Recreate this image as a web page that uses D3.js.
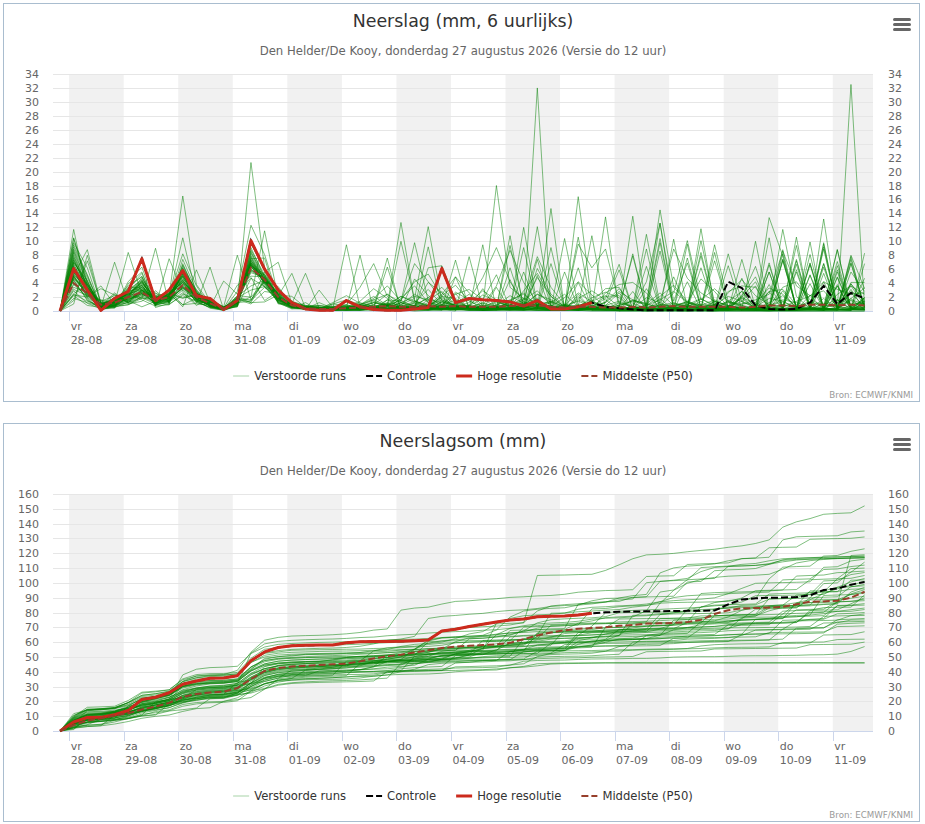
<!DOCTYPE html>
<html><head><meta charset="utf-8">
<script src="https://cdn.jsdelivr.net/npm/d3@7"></script>
<style>
body{margin:0;background:#fff;}
svg{display:block;font-family:"DejaVu Sans",sans-serif;}
</style>
</head><body>
<svg id="chart" width="925" height="824"></svg>
<script>
// ---------------- DATA ----------------
const startTime = new Date(2026, 7, 27, 20, 0); // first forecast step (local time)
const stepHours = 6;
const dayNames = ["zo","ma","di","wo","do","vr","za"];
const titles = ["Neerslag (mm, 6 uurlijks)", "Neerslagsom (mm)"];
const subtitle = "Den Helder/De Kooy, donderdag 27 augustus 2026 (Versie do 12 uur)";
const credit = "Bron: ECMWF/KNMI";
const legendLabels = ["Verstoorde runs", "Controle", "Hoge resolutie", "Middelste (P50)"];
const yTicks6h = [0,2,4,6,8,10,12,14,16,18,20,22,24,26,28,30,32,34];
const yTicksSom = [0,10,20,30,40,50,60,70,80,90,100,110,120,130,140,150,160];

const hogeResolutie = [0,6.1,3.0,0.1,1.8,2.8,7.5,1.5,3.0,5.8,2.2,1.8,0.2,1.5,10.1,6.0,3.0,1.2,0.3,0.1,0.1,1.5,0.6,0.2,0.1,0.1,0.3,0.5,6.1,1.2,1.8,1.6,1.5,1.3,0.7,1.5,0.3,0.3,0.6,1.2];

const controle = [0,6.1,3.0,0.1,1.8,2.8,7.5,1.5,3.0,5.8,2.2,1.8,0.2,1.5,10.1,6.0,3.0,1.2,0.3,0.1,0.1,1.5,0.6,0.2,0.1,0.1,0.3,0.5,6.1,1.2,1.8,1.6,1.5,1.3,0.7,1.5,0.3,0.3,0.6,1.2,
  0.6,0.4,0.2,0.1,0.1,0.1,0.1,0.1,0.1,4.2,3.3,0.8,0.3,0.2,0.3,1.2,3.6,1.0,2.6,1.8];

const middelste6h = [0,4.0,2.5,0.9,1.2,2.0,2.7,1.5,2.0,3.7,2.0,1.1,0.3,1.5,6.2,4.5,2.0,0.8,0.4,0.3,0.3,
  0.4,0.5,0.6,0.7,0.6,0.6,0.7,0.6,0.7,0.6,0.6,0.6,0.7,0.8,0.8,0.6,0.5,0.6,0.6,0.5,
  0.5,0.6,0.5,0.6,0.7,0.6,0.6,0.6,0.6,0.5,0.6,0.8,0.8,0.7,0.9,0.9,0.8,0.9,0.8];

const middelsteSom = [0,4,7,8.5,10.5,12,14.5,16.5,19,23,25,26,26.5,29,35,40.5,42.5,43.5,44,44.5,45,
  45.5,47,49,50.5,51.5,53,54.5,56,57,57.5,58,58.5,59.5,62,64.5,66.5,68,69,69.5,70,
  71,71.5,72.5,72.7,73,73.5,75,79,81.5,82.8,83,83.3,83.8,85.5,87.3,87.5,88,90,94];

const verstoordeRuns = [
 [0,4.5,1.5,0.4,0.8,1.2,3.0,0.9,1.4,3.0,1.6,0.8,0.2,1.1,6.5,5.0,1.8,0.6,0.3,0.2,0.1, 0.3,0.6,1.2,0.8,0.4,0.2,0.1,0.5,1.0,0.6, 0.4,0.2,1.5,0.9,1.8,0.3,0.2,0.1,0,0, 0,0,0,0,0,0,0,0,0,0, 0,0,0,0,0,0,0,0,0],
 [0,5.0,2.2,0.6,1.0,1.8,2.5,1.2,1.5,3.5,2.0,1.0,0.3,1.4,6.0,4.5,2.0,0.5,0.4,0.3,0.2, 0.2,0.1,0.4,1.1,0.3,0.2,0.4,0.2,0.1,0.3, 0.2,0.5,0.8,0.4,0.9,1.2,0.3,0.1,0.2,0.2, 0,0,0,0,0,0,0,0,0,0, 0,0,0,0,0,0,0,0,0],
 [0,2.5,3.8,1.2,0.6,0.9,1.8,9.0,1.0,2.2,1.4,0.5,0.1,2.0,1.5,3.4,2.2,1.0,0.3,0.2,0.4, 0.5,0.3,0.2,0.9,2.1,1.2,0.4,0.3,0.6,0.2, 0.1,0.3,1.4,2.6,0.5,0.2,0.1,0.4,0.3,0.1, 0.1,0.2,0.0,0.3,0.6,0.2,0.1,0.0,0.2,0.3, 0.1,0.0,0.2,0.1,0.3,0.1,0.4,1.8,3.3],
 [0,6.2,1.8,0.2,1.5,2.4,3.1,0.8,2.6,4.1,1.2,0.6,0.3,0.9,6.8,3.9,1.5,0.9,0.5,0.4,0.2, 0.1,0.2,0.1,0.3,0.2,0.0,0.1,0.1,4.9,0.5, 1.1,0.4,0.2,0.1,0.6,0.3,0.2,0.1,0.4,0.2, 0.1,0.2,3.2,0.2,0.1,0.1,0.1,1.4,0.1,0.1, 0.1,0.1,0.1,0.1,2.3,0.1,0.1,0.1,1.4],
 [0,7.8,3.5,0.3,0.9,1.5,2.8,1.6,2.2,5.0,2.6,1.1,0.2,1.3,5.5,4.8,1.7,0.6,0.2,0.3,0.1, 0.4,1.2,0.6,0.2,0.1,0.3,0.2,0.5,0.4,0.1, 0.1,0.1,0.2,0.3,5.1,0.2,0.1,0.1,0.1,0.3, 0.2,0.1,0.3,0.2,0.1,0.0,0.2,0.4,0.3,0.1, 0.1,0.2,2.9,0.2,0.1,0.1,1.6,0.2,0.1],
 [0,1.8,1.2,0.6,7.0,1.0,1.4,2.9,1.3,2.6,0.8,1.9,0.4,1.7,1.0,2.8,2.5,1.2,0.4,0.3,0.2, 0.2,0.2,0.4,6.3,0.3,0.1,0.1,0.2,2.5,0.2, 0.3,0.2,0.5,0.9,4.8,2.1,0.6,0.2,0.3,0.4, 0.2,0.5,0.3,0.1,0.2,0.6,1.7,0.9,0.3,0.2, 0.1,0.1,0.1,0.1,0.2,5.4,0.2,0.1,1.9],
 [0,4.8,2.9,1.0,1.4,2.0,4.2,1.1,1.8,3.3,2.2,1.5,0.5,0.6,4.7,3.5,1.4,0.4,0.2,3.0,0.5, 0.1,0.2,0.4,0.3,0.9,2.4,1.3,0.4,0.2,0.1, 0.1,0.2,6.2,0.3,0.1,0.1,0.1,2.4,0.2,0.2, 0.1,0.1,0.1,0.2,4.9,0.3,0.1,0.1,0.1,0.2, 0.2,2.8,0.2,0.1,0.1,0.1,3.6,0.2,0.3],
 [0,8.5,4.1,0.2,0.7,3.2,5.4,0.9,1.2,6.2,1.5,0.4,0.1,0.8,7.4,3.9,1.2,0.3,0.4,0.2,0.1, 0.2,0.1,0.3,0.6,0.4,0.2,0.8,1.6,0.7,0.3, 0.1,0.1,0.1,0.1,0.3,0.1,5.6,0.4,0.2,0.2, 0.1,0.1,0.1,0.1,0.2,0.1,0.1,0.2,0.3,4.7, 0.3,0.1,0.1,0.1,0.2,0.3,5.9,0.6,0.3],
 [0,1.0,8.0,0.9,0.5,1.3,2.6,2.0,2.8,0.9,1.8,0.7,0.3,1.6,5.8,5.2,1.9,0.8,0.2,0.1,0.3, 0.6,0.4,0.2,0.1,0.5,1.2,3.1,0.9,0.4,0.3, 0.2,0.5,0.3,0.8,1.6,0.4,0.2,0.1,0.3,0.6, 0.4,8.2,0.3,0.1,0.1,0.1,0.3,0.2,0.1,0.1, 0.1,0.2,0.4,7.4,0.3,0.1,3.8,0.2,0.2],
 [0,5.5,3.2,1.4,2.2,1.9,3.5,1.4,2.4,4.6,2.9,1.3,0.6,1.2,6.6,3.4,1.6,0.5,0.3,0.2,0.2, 0.2,0.3,0.9,0.4,0.1,0.2,0.3,0.6,1.1,2.4, 0.4,0.2,0.1,0.1,0.2,6.8,0.4,0.2,0.1,0.1, 0.1,0.2,0.3,0.1,0.4,0.9,0.3,0.2,0.6,1.4, 3.6,0.2,0.1,0.1,0.2,4.2,0.2,1.8,0.1],
 [0,2.9,1.1,0.3,1.8,2.4,1.6,0.7,7.5,2.8,1.0,0.9,0.2,1.9,3.0,3.5,2.6,1.3,0.8,0.4,0.3, 0.4,8.0,0.0,1.6,0.5,0.2,0.3,0.1,0.4,0.6, 0.2,0.3,0.1,0.4,0.9,0.6,0.3,0.2,0.4,1.3, 3.2,1.1,0.4,0.2,0.3,0.8,0.5,0.2,0.1,0.3, 0.2,0.3,7.4,0.3,0.2,0.2,5.6,0.4,0.5],
 [0,9.2,5.1,0.4,0.6,2.8,4.6,0.5,1.1,5.8,3.1,0.8,0.1,0.9,8.2,4.4,1.2,0.5,0.3,0.2,0.1, 0.1,0.3,0.2,0.8,1.5,0.6,0.2,0.4,0.3,0.1, 0.1,0.2,4.5,0.2,0.1,0.1,0.2,2.1,0.1,0.1, 0.2,0.4,1.9,1.2,0.3,0.1,0.2,0.5,0.8,0.4, 0.1,0.2,0.3,5.6,0.2,0.1,0.2,3.1,0.1],
 [0,2.3,2.0,3.6,0.9,1.4,3.0,1.9,2.1,4.4,1.7,1.2,0.4,1.5,6.3,4.7,2.2,0.7,0.6,0.8,0.5, 1.3,0.6,0.3,0.2,0.4,0.8,0.5,2.2,3.7,1.4, 0.6,0.3,0.2,0.5,1.1,0.4,0.2,0.3,0.6,2.1, 2.2,0.1,0.1,0.1,0.2,0.3,6.2,0.3,0.2,0.1, 0.1,0.1,0.1,0.2,0.4,6.8,0.3,0.2,1.1],
 [0,2.2,0.8,0.5,1.2,1.7,2.2,1.3,0.9,2.4,1.9,0.6,4.3,2.4,4.8,1.5,2.8,1.1,0.6,0.4,0.3, 0.2,0.4,0.6,0.6,10.0,1.5,0.8,0.3,0.2,0.5, 1.2,0.6,0.3,0.2,0.4,0.7,1.9,4.2,2.3,0.6, 0.3,0.2,0.5,0.9,0.4,0.2,0.1,0.3,0.6,0.4, 0.2,0.4,8.8,0.3,0.2,0.3,3.6,0.3,0.6],
 [0,7.1,3.9,0.8,1.6,2.5,3.9,2.2,1.7,5.3,2.1,1.0,0.3,1.1,6.9,4.1,1.5,0.6,0.3,0.1,1.0, 0.8,0.3,0.2,0.4,1.2,0.6,0.3,0.2,0.5,0.9, 2.3,1.4,0.5,0.2,6.1,2.4,0.8,0.3,0.2,0.4, 0.3,0.2,0.6,0.4,0.2,0.1,0.3,0.5,1.2,0.8, 0.1,0.1,0.2,0.3,6.9,0.3,0.2,0.1,1.2],
 [0,4.6,2.6,0.6,2.4,1.2,2.3,1.8,2.9,3.4,2.4,1.6,0.2,1.8,5.9,4.4,2.1,0.9,0.3,1.2,0.4, 0.3,0.2,0.4,0.9,0.5,0.3,0.6,0.2,0.4,0.7, 0.1,0.2,0.3,5.6,0.3,0.1,0.2,6.2,0.2,0.2, 0.5,0.3,0.2,0.4,1.1,0.6,0.3,0.2,0.5,0.4, 10.0,0.3,0.9,0.5,1.2,0.9,1.6,1.1,1.1],
 [0,5.1,8.8,1.1,0.5,2.1,3.7,1.0,2.5,5.1,1.8,0.7,0.2,1.4,7.5,7.6,1.1,0.4,1.2,0.1,0.1, 0.2,0.1,0.3,0.2,0.6,1.4,0.8,0.3,0.2,0.4, 0.6,0.2,0.4,1.3,0.8,0.3,0.2,0.6,1.9,2.7, 1.9,0.1,0.1,0.1,0.2,0.4,0.3,0.1,0.2,7.4, 0.5,0.1,0.1,0.2,0.3,0.4,6.5,0.3,0.3],
 [0,3.9,1.9,0.7,1.3,1.6,2.9,1.5,1.9,3.2,2.0,0.9,0.4,3.7,5.0,4.9,2.4,0.8,0.5,0.3,0.2, 0.4,0.9,2.1,0.8,0.3,4.6,2.2,0.6,0.3,0.2, 0.3,0.2,0.6,1.1,0.4,0.3,0.5,0.9,0.6,0.3, 0.1,0.3,6.4,0.3,0.1,0.1,0.1,0.2,6.5,0.2, 0.8,0.4,0.3,0.6,1.4,0.5,8.8,0.3,1.0],
 [0,6.4,2.7,0.5,1.1,3.4,3.3,1.4,1.6,4.8,1.6,1.1,0.6,1.3,6.7,4.3,3.5,0.8,0.4,0.2,0.3, 0.2,0.6,0.4,0.2,0.3,0.8,1.9,3.4,1.2,0.5, 0.3,0.8,2.2,1.1,0.4,0.2,0.3,1.6,0.8,0.5, 0.6,7.9,0.3,0.1,0.1,0.1,0.2,0.1,0.1,2.1, 0.2,0.1,0.3,5.9,0.3,0.2,4.9,0.3,0.5],
 [0,3.1,2.2,1.5,0.7,0.9,2.1,2.6,1.2,3.6,1.3,0.5,0.3,1.2,1.4,5.6,7.0,1.1,0.6,0.5,0.3, 9.5,0.5,1.2,0.7,0.6,1.1,0.4,0.8,0.6,0.8, 1.7,0.6,0.3,0.5,1.2,0.6,0.9,0.4,0.3,0.6, 0.4,0.3,0.8,2.1,3.7,1.4,0.6,0.3,0.5,0.2, 0.2,0.3,7.2,0.4,0.3,0.4,7.1,0.4,1.4],
 [0,5.2,3.4,0.9,1.9,1.7,2.4,2.3,1.4,4.2,2.2,1.4,0.5,1.7,6.4,4.1,2.1,0.7,0.5,0.4,0.6, 0.9,0.4,0.2,0.3,0.6,0.2,0.4,1.3,0.8,0.4, 0.2,0.4,0.3,12.0,0.7,0.7,0.3,0.2,0.5,0.4, 0.3,0.6,0.4,0.2,0.2,0.4,0.3,0.2,1.4,2.8, 0.3,0.2,0.3,0.4,8.1,0.3,0.2,4.1,4.1],
 [0,9.8,6.2,0.3,0.4,3.9,5.6,0.7,0.9,6.8,2.4,0.6,0.2,0.7,9.1,4.8,1.0,1.1,0.2,0.2,0.1, 0.2,0.1,0.4,0.2,0.3,0.6,0.3,0.8,1.6,0.5, 0.3,0.2,0.4,0.8,0.5,1.2,2.4,0.6,0.3,0.2, 0.1,0.1,0.1,8.6,0.3,0.2,0.1,0.4,0.1,0.3, 0.3,5.6,0.2,0.1,5.1,0.2,0.1,0.8,1.4],
 [0,4.4,1.6,0.4,1.1,2.6,3.6,1.7,1.5,3.8,1.4,1.0,0.3,1.9,7.1,5.1,1.8,1.0,0.8,0.6,0.3, 0.6,1.4,3.2,1.8,0.4,0.3,0.2,0.5,0.3,0.6, 0.2,3.4,0.2,0.1,0.1,0.2,0.4,10.6,0.4,0.3, 0.3,0.2,0.4,0.6,0.3,0.9,1.8,0.6,0.3,0.4, 0.2,0.3,7.4,0.4,0.2,1.8,0.2,0.1,8.3],
 [0,2.4,1.4,0.8,2.6,1.1,1.9,1.0,2.3,0.9,1.1,6.3,0.2,2.2,2.0,4.2,2.6,1.4,0.7,0.5,0.4, 0.5,0.8,0.4,1.6,1.4,9.8,1.5,0.6,0.3,0.4, 0.3,0.2,0.5,0.4,0.9,0.6,0.3,0.2,1.4,3.2, 3.4,0.2,0.1,0.2,0.3,0.4,7.9,0.4,0.2,0.2, 0.6,0.4,0.3,10.6,0.2,1.1,0.8,3.6,0.8],
 [0,7.6,3.0,0.6,1.7,2.2,4.4,2.5,2.0,5.6,1.9,1.2,0.4,1.0,7.2,4.0,1.9,0.7,0.4,0.3,0.2, 0.4,0.2,0.6,0.9,0.4,0.3,1.6,2.8,0.9,0.5, 0.1,0.2,0.4,0.3,7.4,0.6,0.2,0.1,0.3,0.3, 0.8,1.5,1.1,0.4,0.3,0.6,0.4,0.4,1.5,0.6, 0.4,0.8,1.3,0.6,0.3,13.2,0.3,0.3,1.9],
 [0,5.0,2.3,1.2,0.8,1.9,2.7,1.2,2.7,4.0,2.4,1.3,0.3,1.6,1.6,4.5,2.2,5.4,0.4,0.3,1.2, 2.2,1.1,0.4,0.3,0.6,0.4,0.3,0.9,2.7,1.6, 0.2,0.4,9.4,0.6,0.2,0.1,0.1,0.2,1.6,0.2, 0.1,0.1,0.2,1.8,0.1,0.2,0.4,8.4,0.3,0.2, 0.1,0.2,0.3,7.2,0.4,0.3,0.2,5.6,2.8],
 [0,6.8,2.9,0.5,1.2,2.4,4.1,1.3,2.2,16.5,3.8,1.1,0.3,0.6,8.6,4.4,1.8,0.6,0.4,0.3,0.2, 0.3,0.2,0.4,0.6,0.3,0.2,0.5,0.4,0.2,0.3, 0.6,1.4,0.8,0.3,0.6,0.4,0.2,0.3,0.5,1.2, 5.9,0.2,0.1,0.1,0.1,0.2,1.4,0.1,0.1,0.3, 0.3,5.6,0.3,0.2,0.4,8.9,0.3,1.5,0.3],
 [0,5.8,2.1,0.7,1.3,2.9,3.2,1.6,1.9,4.5,1.5,0.9,0.5,1.4,6.5,5.3,2.3,0.9,0.5,0.3,0.4, 0.3,0.5,0.9,2.4,1.2,0.4,0.2,0.3,0.6,0.3, 9.5,0.2,0.2,0.4,0.3,0.2,0.2,0.2,0.4,0.3, 0.1,0.2,0.3,0.4,10.3,0.3,0.2,0.1,0.2,1.0, 1.2,3.3,2.4,0.6,0.4,0.9,0.4,8.0,3.2],
 [0,1.5,7.2,1.1,1.6,1.5,0.6,1.4,2.5,1.8,2.5,1.7,0.6,1.5,5.7,4.7,2.5,1.0,0.6,0.4,0.3, 0.4,0.3,0.6,1.1,0.5,0.8,4.1,2.6,0.7,0.4, 0.3,0.6,0.4,1.6,2.9,0.8,0.4,0.3,0.6,1.8, 6.7,0.2,0.1,0.1,0.1,4.2,0.2,0.1,0.1,2.1, 6.4,0.3,0.2,0.4,6.8,0.4,0.3,6.9,0.5],
 [0,6.9,4.4,0.2,0.9,2.3,3.8,0.9,2.3,5.2,1.7,0.8,0.2,1.2,7.0,4.2,2.0,0.8,0.7,0.8,0.5, 0.6,0.3,0.2,0.4,1.8,3.6,1.2,0.4,0.3,0.8, 0.2,0.1,0.3,0.2,0.4,0.3,10.4,0.7,0.4,0.2, 0.3,0.5,0.4,0.2,0.6,0.9,0.4,9.5,1.3,0.4, 0.2,0.3,0.4,6.7,0.3,0.2,4.8,0.3,1.7],
 [0,3.4,2.6,1.3,1.1,8.4,2.4,2.1,1.6,3.3,1.4,1.0,0.3,2.0,1.2,1.3,2.3,2.1,0.5,0.4,0.3, 0.5,0.4,0.3,0.6,1.2,0.8,0.4,0.4,7.3,0.2, 0.6,0.3,0.4,0.9,1.4,0.6,0.3,0.5,0.4,13.5, 0.0,0.6,0.4,0.3,0.8,1.3,0.6,0.4,2.6,4.5, 2.2,0.9,0.6,1.4,2.1,4.2,3.1,2.4,2.6],
 [0,8.9,4.8,0.5,1.4,3.6,4.9,1.1,1.8,6.4,2.6,1.3,0.4,0.9,7.8,3.6,1.3,0.5,0.3,0.2,0.2, 0.3,0.2,0.5,0.3,0.8,0.4,0.6,0.3,0.2,0.4, 0.2,0.4,10.8,0.3,0.1,0.1,0.2,4.1,0.2,0.1, 0.6,0.3,0.2,0.4,0.5,0.3,0.8,1.6,0.6,0.3, 0.2,10.5,0.3,0.2,3.9,0.2,0.1,7.8,0.2],
 [0,5.3,3.1,1.0,1.8,1.6,2.6,2.0,2.3,4.3,2.1,1.0,0.3,1.4,6.3,4.3,2.0,0.9,0.6,0.5,0.4, 0.4,0.6,1.4,0.8,0.3,0.5,0.9,0.4,0.3,0.6, 3.2,0.3,0.2,0.4,12.1,0.6,0.2,0.2,0.3,0.7, 0.2,0.1,0.3,9.8,0.4,0.2,0.1,0.2,0.3,1.9, 1.1,0.6,0.9,0.4,9.9,0.0,2.4,3.6,2.4],
 [0,8.3,3.6,0.4,1.0,2.7,4.0,1.8,2.9,5.5,2.3,0.8,0.2,1.1,7.6,4.5,1.7,0.7,0.4,0.3,0.2, 0.1,0.2,0.1,0.2,0.1,0.4,9.2,0.4,0.2,0.1, 0.1,0.2,0.3,0.2,0.4,9.1,0.6,0.3,0.2,0.1, 0.2,0.3,0.1,0.1,0.2,0.4,10.1,1.1,0.3,0.2, 0.3,6.6,0.4,0.2,0.3,0.6,8.8,0.4,1.9],
 [0,6.1,3.8,0.8,1.5,2.0,3.4,1.3,2.6,0.6,5.9,1.2,0.5,1.6,6.8,4.0,2.1,0.9,0.4,0.2,0.3, 0.3,0.5,0.8,0.4,0.6,0.3,0.2,1.4,0.8,0.5, 0.2,0.4,0.3,0.6,0.8,0.4,0.5,9.6,6.2,8.9, 1.1,0.6,0.4,0.3,0.5,0.4,0.6,0.9,0.6,2.0, 4.2,0.2,0.1,0.2,0.3,9.2,0.4,3.9,1.4],
 [0,4.9,2.5,0.6,0.8,1.8,3.0,1.6,1.7,3.9,1.9,1.4,0.4,1.8,1.2,4.6,2.4,1.1,5.4,0.4,0.6, 0.6,0.4,0.5,7.6,0.0,0.8,0.4,0.3,0.6,1.2, 2.9,1.6,0.5,0.4,0.8,1.4,0.6,0.3,0.4,0.8, 0.4,13.6,0.2,0.9,0.6,1.4,0.8,0.4,0.6,1.8, 0.4,3.8,0.3,0.2,0.4,9.6,0.5,7.4,0.6],
 [0,10.5,3.8,0.2,0.6,4.2,6.3,0.8,1.4,7.4,2.9,0.6,0.1,0.7,9.6,6.1,1.2,0.6,0.4,0.3,0.2, 0.4,0.3,0.6,0.4,0.3,0.5,0.8,1.9,0.6,0.4, 0.3,0.6,1.2,0.8,2.4,1.3,0.5,0.4,0.6,0.3, 0.1,0.2,0.9,12.6,0.4,0.2,0.1,0.2,0.3,2.3, 4.9,0.3,0.2,0.3,6.6,0.4,0.3,6.8,0.4],
 [0,5.6,2.8,0.9,1.2,2.5,3.1,1.5,2.2,4.4,2.3,1.1,0.4,1.3,6.6,4.4,2.0,0.9,0.6,0.5,0.4, 0.5,0.8,0.6,0.3,1.2,2.1,1.6,1.2,0.6,0.4, 0.6,18.0,3.4,1.8,0.6,0.4,0.8,2.6,1.3,0.4, 0.6,0.4,0.8,1.6,2.8,1.2,0.5,0.3,0.6,0.4, 0.3,0.4,8.2,0.4,0.3,6.3,0.4,1.6,1.0],
 [0,7.3,3.3,0.5,1.3,2.6,1.8,1.9,1.8,5.0,2.0,1.0,0.3,1.2,2.0,11.5,1.8,0.8,0.5,0.4,1.0, 1.6,0.9,0.4,0.6,0.3,0.4,0.8,2.4,4.9,2.6, 0.8,0.4,0.6,2.9,5.4,2.1,0.6,0.4,0.3,0.8, 2.6,0.2,0.1,0.2,0.3,0.4,11.8,0.6,0.3,0.2, 0.3,0.4,0.6,9.4,0.4,0.3,1.6,0.3,6.8],
 [0,8.7,4.3,0.3,0.8,1.2,2.0,1.2,2.0,10.5,2.2,0.9,0.2,1.0,7.9,4.3,1.6,0.6,0.5,0.4,0.3, 0.3,0.6,0.4,0.8,0.5,0.3,0.4,0.2,0.0,7.8, 0.4,0.9,0.4,0.6,0.3,14.7,0.2,0.8,0.5,0.6, 0.4,1.6,1.0,2.6,0.8,0.6,0.4,0.9,2.8,3.6, 3.4,0.3,0.2,0.2,0.3,9.8,0.4,3.9,1.2],
 [0,4.7,2.4,1.6,1.2,1.4,2.8,1.8,2.6,1.9,2.3,1.5,0.6,8.0,1.6,4.2,2.2,0.8,0.5,0.6,0.3, 0.9,3.4,6.8,2.1,0.6,0.4,1.2,0.8,0.5,0.4, 0.2,0.3,0.4,9.1,0.4,0.2,0.3,0.6,10.8,0.3, 1.2,0.6,0.4,1.2,8.9,4.7,2.6,1.4,0.8,0.4, 0.3,0.6,3.4,4.2,1.6,0.8,0.6,0.3,0.3],
 [0,6.6,3.6,0.7,1.9,2.3,3.4,1.7,2.4,4.9,1.6,1.2,0.3,1.5,6.9,4.7,2.0,0.8,0.4,0.3,0.3, 0.4,0.6,0.3,0.8,1.6,4.2,5.3,2.1,0.6,0.4, 0.8,3.6,8.7,4.1,1.2,0.6,0.4,1.8,2.9,1.6, 0.2,0.3,0.6,10.4,0.5,0.4,8.4,0.6,0.4,0.2, 0.3,1.2,2.2,0.6,0.3,0.2,0.3,0.2,0.2],
 [0,9.5,5.2,0.4,0.7,3.3,5.0,1.0,1.5,6.6,2.7,0.8,0.3,0.8,8.4,4.9,1.4,0.6,0.3,0.3,0.2, 0.1,0.2,0.3,0.2,0.2,0.3,6.2,6.5,1.5,0.4, 0.6,0.4,0.8,1.6,7.8,3.4,0.9,0.6,0.4,0.8, 1.4,0.6,11.0,0.9,0.8,1.2,4.6,2.8,0.6,0.4, 0.4,0.8,1.6,1.2,0.6,0.3,0.2,0.3,0.2],
 [0,3.8,2.1,3.2,2.3,1.3,2.5,1.1,1.4,3.4,1.7,0.9,0.5,2.1,3.6,4.4,2.7,1.2,0.6,0.5,0.7, 0.6,0.9,1.8,3.6,1.4,6.8,4.2,1.6,0.8,0.6, 0.4,0.8,1.6,2.4,0.9,0.6,0.2,16.4,1.2,0.4, 0.3,2.8,0.2,0.2,0.3,9.6,0.4,7.2,0.6,0.3, 0.6,2.8,3.1,0.9,0.4,0.3,0.2,0.3,0.3],
 [0,7.4,3.1,0.3,1.0,2.2,4.3,1.6,1.2,5.7,2.1,0.9,0.3,1.2,21.3,6.2,1.7,0.7,0.4,0.3,0.2, 0.4,0.6,0.3,0.9,0.6,0.4,0.8,0.6,0.4,0.3, 0.6,0.4,0.9,1.8,1.2,0.6,0.4,0.8,1.4,0.6, 0.3,0.6,4.2,12.6,1.4,6.9,0.5,0.4,8.2,1.3, 0.6,1.8,1.4,0.4,0.3,0.4,0.2,0.3,0.2],
 [0,5.1,2.7,1.1,1.4,2.1,3.0,1.4,2.1,4.1,2.0,1.3,0.4,1.6,6.4,4.6,2.3,0.9,0.6,0.5,0.4, 0.3,0.4,0.6,1.2,0.8,0.4,0.6,0.3,0.9,1.6, 4.8,9.1,4.2,1.3,0.6,0.8,0.4,0.6,1.4,2.2, 0.6,0.4,0.3,0.8,1.2,0.6,0.4,1.4,0.8,0.3, 0.2,0.4,0.6,0.3,0.5,0.4,0.3,32.5,0.5],
 [0,7.0,3.9,0.6,1.5,2.7,3.7,1.2,2.0,5.3,2.5,1.4,0.5,1.2,7.3,4.5,1.8,0.7,0.4,0.3,0.3, 0.8,0.4,0.6,0.3,0.5,0.8,1.9,0.9,0.6,0.4, 0.6,0.4,1.2,0.9,2.4,1.6,0.8,0.6,0.4,0.6, 0.8,1.4,0.9,0.6,2.6,10.1,1.6,3.2,1.4,0.8, 0.4,13.4,7.9,0.4,0.3,6.8,0.4,2.8,1.7],
 [0,11.7,2.4,0.3,0.6,2.1,4.8,1.4,2.1,8.2,3.6,0.7,0.2,2.8,12.3,8.1,1.9,0.9,0.3,0.2,0.4, 0.6,0.9,1.6,0.8,12.7,1.4,0.6,2.1,1.8,0.4, 0.8,0.6,0.9,0.4,0.6,0.3,0.8,1.4,0.6,0.5, 0.2,0.4,8.9,0.3,0.2,7.6,0.4,0.3,0.4,2.9, 0.4,6.9,0.3,0.2,5.2,0.3,0.2,0.2,0.9],
 [0,10.4,4.2,0.4,0.9,3.1,4.4,0.8,1.9,6.1,2.8,0.6,0.3,1.4,9.8,5.7,1.5,0.8,0.4,0.3,0.2, 0.4,0.8,1.6,2.4,0.9,1.8,12.1,1.4,0.6,0.8, 0.6,1.2,0.8,0.4,0.9,1.4,0.6,0.3,0.8,1.2, 2.8,1.6,0.8,14.5,3.4,1.2,0.6,0.9,2.1,1.4, 0.4,0.6,11.7,2.1,0.3,0.2,0.2,2.6,0.6],
 [0,8.0,3.4,0.5,1.2,2.9,4.2,1.5,2.4,5.9,2.0,1.0,0.3,1.1,8.8,5.2,1.8,0.9,0.4,0.3,0.2, 0.4,0.6,1.2,0.8,2.1,1.4,0.6,0.9,2.4,3.1, 1.6,5.2,0.4,0.3,32.0,0.2,0.1,0.3,0.2,2.6, 3.8,4.1,2.6,0.4,0.6,1.1,0.9,0.8,1.3,1.0, 1.6,2.4,8.6,3.6,2.2,2.9,0.6,0.4,4.7]
];

// ---------------- LAYOUT / STYLE ----------------
const CX = 463;
const plot = {L: 53, R: 873, T: 74, B: 311};
const padHours = [3.1, 3.7];
const nSteps = 60;
const colors = {
  run: "#008000", ctrl: "#000000", hres: "#cc2a1d", p50: "#973f2b",
  grid: "#e6e6e6", axis: "#ccd6eb", band: "#f1f1f1", frame: "#a9bdcf",
  label: "#666666", title: "#333333", legend: "#333333", credit: "#999999"
};

const timeAt = i => new Date(+startTime + i * stepHours * 3600e3);
const cumulative = arr => { let s = 0; return arr.map(v => (s += v, Math.round(s * 100) / 100)); };

const charts = [
  {oy: 0, title: titles[0], yTicks: yTicks6h,
   runs: verstoordeRuns, ctrl: controle, hres: hogeResolutie, p50: middelste6h},
  {oy: 420, title: titles[1], yTicks: yTicksSom,
   runs: verstoordeRuns.map(cumulative), ctrl: cumulative(controle), hres: cumulative(hogeResolutie), p50: middelsteSom}
];

const svg = d3.select("#chart");
const fmtDate = d3.timeFormat("%d-%m");

charts.forEach((c, ci) => {
  const g = svg.append("g").attr("transform", `translate(0,${c.oy})`);

  g.append("rect").attr("x", 3.5).attr("y", 3.5).attr("width", 916).attr("height", 398)
    .attr("fill", "#fff").attr("stroke", colors.frame).attr("stroke-width", 1);

  const x = d3.scaleTime()
    .domain([new Date(+timeAt(0) - padHours[0] * 3600e3), new Date(+timeAt(nSteps - 1) + padHours[1] * 3600e3)])
    .range([plot.L, plot.R]);
  const y = d3.scaleLinear().domain([0, d3.max(c.yTicks)]).range([plot.B, plot.T]);

  // alternating day bands
  const days = d3.timeDay.range(d3.timeDay.ceil(x.domain()[0]), x.domain()[1]);
  days.forEach((d, i) => {
    if (i % 2 !== 0) return;
    const x0 = Math.max(plot.L, x(d));
    const x1 = Math.min(plot.R, x(d3.timeDay.offset(d, 1)));
    g.append("rect").attr("x", x0).attr("y", plot.T).attr("width", x1 - x0).attr("height", plot.B - plot.T)
      .attr("fill", colors.band);
  });

  // grid + y labels (both sides)
  c.yTicks.forEach(t => {
    const yy = Math.round(y(t)) + 0.5;
    if (t !== 0) g.append("line").attr("x1", plot.L).attr("x2", plot.R).attr("y1", yy).attr("y2", yy)
      .attr("stroke", colors.grid);
    g.append("text").attr("x", 39).attr("y", y(t) + 4).attr("text-anchor", "end")
      .attr("font-size", 11).attr("fill", colors.label).text(t);
    g.append("text").attr("x", 888).attr("y", y(t) + 4).attr("text-anchor", "start")
      .attr("font-size", 11).attr("fill", colors.label).text(t);
  });

  // x axis
  g.append("line").attr("x1", plot.L).attr("x2", plot.R).attr("y1", plot.B + 0.5).attr("y2", plot.B + 0.5)
    .attr("stroke", colors.axis);
  days.forEach(d => {
    const xx = Math.round(x(d)) + 0.5;
    g.append("line").attr("x1", xx).attr("x2", xx).attr("y1", plot.B).attr("y2", plot.B + 10)
      .attr("stroke", colors.axis);
    const t = g.append("text").attr("font-size", 11).attr("fill", colors.label);
    t.append("tspan").attr("x", x(d) + 1.5).attr("y", 330).text(dayNames[d.getDay()]);
    t.append("tspan").attr("x", x(d) + 1.5).attr("y", 344).text(fmtDate(d));
  });

  // series
  const clipId = "clip" + ci;
  g.append("clipPath").attr("id", clipId).append("rect")
    .attr("x", plot.L).attr("y", plot.T - 2).attr("width", plot.R - plot.L).attr("height", plot.B - plot.T + 4);
  const series = g.append("g").attr("clip-path", `url(#${clipId})`);

  const line = d3.line().x((v, i) => x(timeAt(i))).y(v => y(v)).defined(v => v != null);

  series.selectAll("path.run").data(c.runs).join("path").attr("class", "run")
    .attr("d", line).attr("fill", "none").attr("stroke", colors.run).attr("stroke-opacity", 0.5)
    .attr("stroke-width", 1).attr("stroke-linejoin", "round");
  series.append("path").attr("d", line(c.ctrl)).attr("fill", "none").attr("stroke", colors.ctrl)
    .attr("stroke-width", 2).attr("stroke-dasharray", "7,3");
  series.append("path").attr("d", line(c.hres)).attr("fill", "none").attr("stroke", colors.hres)
    .attr("stroke-width", 3).attr("stroke-linejoin", "round");
  series.append("path").attr("d", line(c.p50)).attr("fill", "none").attr("stroke", colors.p50)
    .attr("stroke-width", 2).attr("stroke-dasharray", "7,3");

  // titles
  g.append("text").attr("x", CX).attr("y", 27).attr("text-anchor", "middle")
    .attr("font-size", 17.4).attr("fill", colors.title).text(c.title);
  g.append("text").attr("x", CX).attr("y", 55).attr("text-anchor", "middle")
    .attr("font-size", 11.7).attr("fill", colors.label).text(subtitle);

  // menu button
  [19.5, 24.5, 29.5].forEach(yy => {
    g.append("line").attr("x1", 894.5).attr("x2", 909.5).attr("y1", yy).attr("y2", yy)
      .attr("stroke", "#666").attr("stroke-width", 3).attr("stroke-linecap", "round");
  });

  // legend
  const lg = g.append("g");
  const styles = [
    {stroke: colors.run, op: 0.35, w: 1, dash: null},
    {stroke: colors.ctrl, op: 1, w: 2, dash: "7,3"},
    {stroke: colors.hres, op: 1, w: 3, dash: null},
    {stroke: colors.p50, op: 1, w: 2, dash: "7,3"}
  ];
  const texts = legendLabels.map(l => lg.append("text").attr("y", 379.5).attr("font-size", 11.6)
    .attr("fill", colors.legend).text(l));
  const widths = texts.map(t => t.node().getComputedTextLength());
  const symW = 16, symPad = 5, itemDist = 20;
  const total = d3.sum(widths) + legendLabels.length * (symW + symPad) + (legendLabels.length - 1) * itemDist;
  let lx = CX - total / 2;
  legendLabels.forEach((l, i) => {
    const s = styles[i];
    lg.append("line").attr("x1", lx).attr("x2", lx + symW).attr("y1", 376).attr("y2", 376)
      .attr("stroke", s.stroke).attr("stroke-opacity", s.op).attr("stroke-width", s.w)
      .attr("stroke-dasharray", s.dash);
    texts[i].attr("x", lx + symW + symPad);
    lx += symW + symPad + widths[i] + itemDist;
  });

  // credits
  g.append("text").attr("x", 913).attr("y", 398).attr("text-anchor", "end")
    .attr("font-size", 8.7).attr("fill", colors.credit).text(credit);
});
</script>
</body></html>
